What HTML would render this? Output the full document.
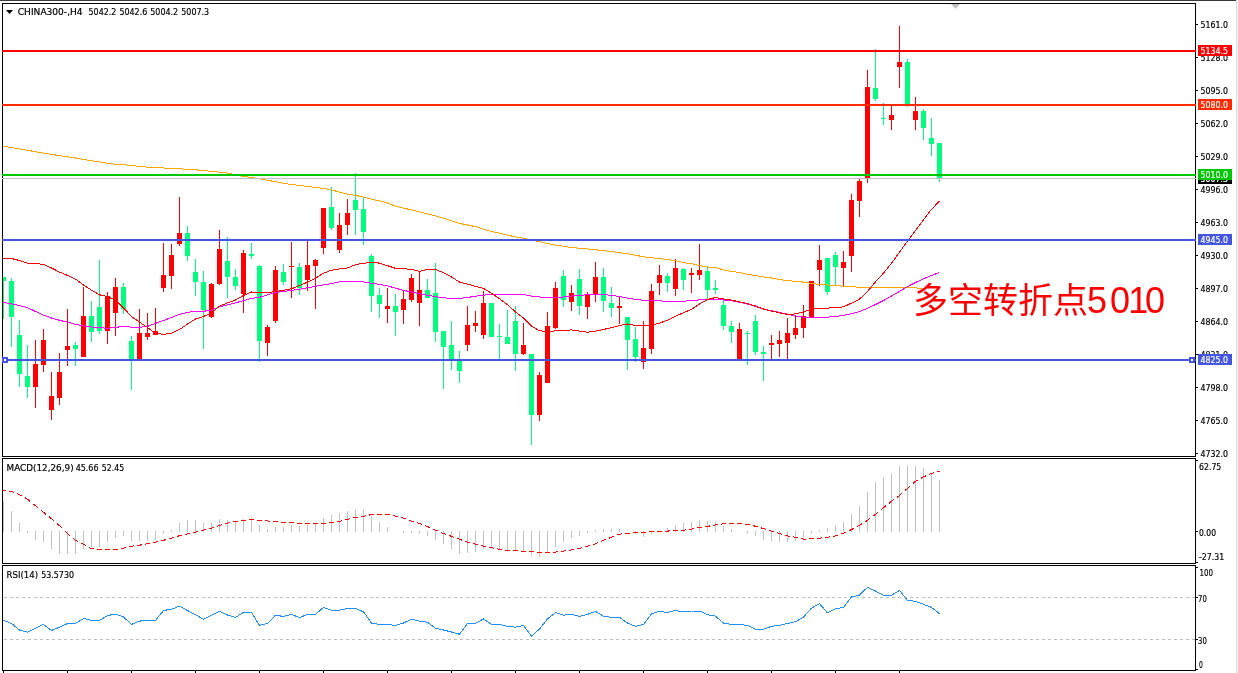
<!DOCTYPE html>
<html><head><meta charset="utf-8"><title>CHINA300 H4</title>
<style>html,body{margin:0;padding:0;background:#fff;}body{width:1238px;height:673px;overflow:hidden;}svg{display:block}</style>
</head><body>
<svg style="will-change:transform" width="1238" height="673" viewBox="0 0 1238 673">
<rect x="0" y="0" width="1238" height="673" fill="#ffffff"/>
<rect x="0" y="0" width="1236" height="1" fill="#3a3a3a"/>
<rect x="1236" y="0" width="1" height="673" fill="#dcdcdc"/>
<rect x="1237" y="1" width="1" height="672" fill="#f4f4f4"/>
<clipPath id="cm"><rect x="3" y="4" width="1192" height="452"/></clipPath>
<clipPath id="cd"><rect x="3" y="459" width="1192" height="104"/></clipPath>
<clipPath id="cr"><rect x="3" y="566" width="1192" height="104"/></clipPath>
<g clip-path="url(#cm)" shape-rendering="crispEdges">
<rect x="3" y="277" width="1" height="42" fill="#00ff7f"/>
<rect x="1" y="277" width="5" height="4" fill="#00ff7f"/>
<rect x="11" y="278" width="1" height="69" fill="#00ff7f"/>
<rect x="9" y="281" width="5" height="36" fill="#00ff7f"/>
<rect x="19" y="320" width="1" height="67" fill="#00ff7f"/>
<rect x="17" y="335" width="5" height="39" fill="#00ff7f"/>
<rect x="27" y="345" width="1" height="53" fill="#00ff7f"/>
<rect x="25" y="376" width="5" height="11" fill="#00ff7f"/>
<rect x="35" y="340" width="1" height="68" fill="#ff0000"/>
<rect x="33" y="364" width="5" height="23" fill="#ff0000"/>
<rect x="43" y="329" width="1" height="43" fill="#ff0000"/>
<rect x="41" y="340" width="5" height="25" fill="#ff0000"/>
<rect x="51" y="372" width="1" height="48" fill="#ff0000"/>
<rect x="49" y="396" width="5" height="14" fill="#ff0000"/>
<rect x="59" y="353" width="1" height="52" fill="#ff0000"/>
<rect x="57" y="372" width="5" height="26" fill="#ff0000"/>
<rect x="67" y="309" width="1" height="57" fill="#ff0000"/>
<rect x="65" y="346" width="5" height="4" fill="#ff0000"/>
<rect x="75" y="342" width="1" height="24" fill="#00ff7f"/>
<rect x="73" y="345" width="5" height="4" fill="#00ff7f"/>
<rect x="83" y="287" width="1" height="70" fill="#ff0000"/>
<rect x="81" y="316" width="5" height="41" fill="#ff0000"/>
<rect x="91" y="301" width="1" height="41" fill="#00ff7f"/>
<rect x="89" y="316" width="5" height="16" fill="#00ff7f"/>
<rect x="99" y="260" width="1" height="74" fill="#00ff7f"/>
<rect x="97" y="307" width="5" height="24" fill="#00ff7f"/>
<rect x="107" y="292" width="1" height="52" fill="#ff0000"/>
<rect x="105" y="296" width="5" height="35" fill="#ff0000"/>
<rect x="115" y="278" width="1" height="58" fill="#ff0000"/>
<rect x="113" y="287" width="5" height="26" fill="#ff0000"/>
<rect x="123" y="283" width="1" height="31" fill="#00ff7f"/>
<rect x="121" y="287" width="5" height="22" fill="#00ff7f"/>
<rect x="131" y="336" width="1" height="54" fill="#00ff7f"/>
<rect x="129" y="341" width="5" height="18" fill="#00ff7f"/>
<rect x="139" y="309" width="1" height="50" fill="#ff0000"/>
<rect x="137" y="333" width="5" height="26" fill="#ff0000"/>
<rect x="147" y="313" width="1" height="27" fill="#ff0000"/>
<rect x="145" y="333" width="5" height="4" fill="#ff0000"/>
<rect x="155" y="308" width="1" height="27" fill="#ff0000"/>
<rect x="153" y="331" width="5" height="4" fill="#ff0000"/>
<rect x="163" y="243" width="1" height="49" fill="#ff0000"/>
<rect x="161" y="275" width="5" height="13" fill="#ff0000"/>
<rect x="171" y="244" width="1" height="45" fill="#ff0000"/>
<rect x="169" y="255" width="5" height="21" fill="#ff0000"/>
<rect x="179" y="197" width="1" height="49" fill="#ff0000"/>
<rect x="177" y="233" width="5" height="11" fill="#ff0000"/>
<rect x="187" y="226" width="1" height="35" fill="#00ff7f"/>
<rect x="185" y="233" width="5" height="23" fill="#00ff7f"/>
<rect x="195" y="259" width="1" height="37" fill="#00ff7f"/>
<rect x="193" y="272" width="5" height="10" fill="#00ff7f"/>
<rect x="203" y="271" width="1" height="78" fill="#00ff7f"/>
<rect x="201" y="282" width="5" height="28" fill="#00ff7f"/>
<rect x="211" y="283" width="1" height="35" fill="#ff0000"/>
<rect x="209" y="284" width="5" height="33" fill="#ff0000"/>
<rect x="219" y="230" width="1" height="55" fill="#ff0000"/>
<rect x="217" y="249" width="5" height="35" fill="#ff0000"/>
<rect x="227" y="237" width="1" height="61" fill="#00ff7f"/>
<rect x="225" y="261" width="5" height="16" fill="#00ff7f"/>
<rect x="235" y="269" width="1" height="21" fill="#00ff7f"/>
<rect x="233" y="277" width="5" height="9" fill="#00ff7f"/>
<rect x="243" y="250" width="1" height="63" fill="#ff0000"/>
<rect x="241" y="253" width="5" height="41" fill="#ff0000"/>
<rect x="251" y="243" width="1" height="16" fill="#00ff7f"/>
<rect x="249" y="254" width="5" height="2" fill="#00ff7f"/>
<rect x="259" y="265" width="1" height="97" fill="#00ff7f"/>
<rect x="257" y="266" width="5" height="75" fill="#00ff7f"/>
<rect x="267" y="325" width="1" height="31" fill="#ff0000"/>
<rect x="265" y="327" width="5" height="16" fill="#ff0000"/>
<rect x="275" y="266" width="1" height="57" fill="#ff0000"/>
<rect x="273" y="270" width="5" height="51" fill="#ff0000"/>
<rect x="283" y="264" width="1" height="21" fill="#00ff7f"/>
<rect x="281" y="272" width="5" height="10" fill="#00ff7f"/>
<rect x="291" y="242" width="1" height="56" fill="#ff0000"/>
<rect x="289" y="266" width="5" height="1" fill="#ff0000"/>
<rect x="299" y="263" width="1" height="32" fill="#00ff7f"/>
<rect x="297" y="267" width="5" height="21" fill="#00ff7f"/>
<rect x="307" y="240" width="1" height="51" fill="#ff0000"/>
<rect x="305" y="265" width="5" height="15" fill="#ff0000"/>
<rect x="315" y="259" width="1" height="50" fill="#ff0000"/>
<rect x="313" y="260" width="5" height="6" fill="#ff0000"/>
<rect x="323" y="208" width="1" height="46" fill="#ff0000"/>
<rect x="321" y="208" width="5" height="40" fill="#ff0000"/>
<rect x="331" y="187" width="1" height="43" fill="#00ff7f"/>
<rect x="329" y="207" width="5" height="21" fill="#00ff7f"/>
<rect x="339" y="213" width="1" height="40" fill="#ff0000"/>
<rect x="337" y="225" width="5" height="25" fill="#ff0000"/>
<rect x="347" y="199" width="1" height="36" fill="#ff0000"/>
<rect x="345" y="213" width="5" height="12" fill="#ff0000"/>
<rect x="355" y="173" width="1" height="62" fill="#00ff7f"/>
<rect x="353" y="200" width="5" height="10" fill="#00ff7f"/>
<rect x="363" y="198" width="1" height="47" fill="#00ff7f"/>
<rect x="361" y="209" width="5" height="23" fill="#00ff7f"/>
<rect x="371" y="254" width="1" height="58" fill="#00ff7f"/>
<rect x="369" y="256" width="5" height="40" fill="#00ff7f"/>
<rect x="379" y="288" width="1" height="30" fill="#00ff7f"/>
<rect x="377" y="295" width="5" height="9" fill="#00ff7f"/>
<rect x="387" y="288" width="1" height="35" fill="#ff0000"/>
<rect x="385" y="306" width="5" height="3" fill="#ff0000"/>
<rect x="395" y="294" width="1" height="42" fill="#00ff7f"/>
<rect x="393" y="306" width="5" height="6" fill="#00ff7f"/>
<rect x="403" y="291" width="1" height="33" fill="#ff0000"/>
<rect x="401" y="299" width="5" height="11" fill="#ff0000"/>
<rect x="411" y="274" width="1" height="28" fill="#ff0000"/>
<rect x="409" y="278" width="5" height="22" fill="#ff0000"/>
<rect x="419" y="271" width="1" height="55" fill="#ff0000"/>
<rect x="417" y="290" width="5" height="13" fill="#ff0000"/>
<rect x="427" y="279" width="1" height="19" fill="#00ff7f"/>
<rect x="425" y="290" width="5" height="8" fill="#00ff7f"/>
<rect x="435" y="263" width="1" height="79" fill="#00ff7f"/>
<rect x="433" y="293" width="5" height="39" fill="#00ff7f"/>
<rect x="443" y="331" width="1" height="58" fill="#00ff7f"/>
<rect x="441" y="331" width="5" height="16" fill="#00ff7f"/>
<rect x="451" y="321" width="1" height="49" fill="#00ff7f"/>
<rect x="449" y="345" width="5" height="14" fill="#00ff7f"/>
<rect x="459" y="351" width="1" height="32" fill="#00ff7f"/>
<rect x="457" y="360" width="5" height="11" fill="#00ff7f"/>
<rect x="467" y="306" width="1" height="45" fill="#ff0000"/>
<rect x="465" y="325" width="5" height="20" fill="#ff0000"/>
<rect x="475" y="311" width="1" height="21" fill="#ff0000"/>
<rect x="473" y="323" width="5" height="3" fill="#ff0000"/>
<rect x="483" y="291" width="1" height="48" fill="#ff0000"/>
<rect x="481" y="303" width="5" height="32" fill="#ff0000"/>
<rect x="491" y="303" width="1" height="34" fill="#00ff7f"/>
<rect x="489" y="303" width="5" height="34" fill="#00ff7f"/>
<rect x="499" y="324" width="1" height="35" fill="#00ff7f"/>
<rect x="497" y="336" width="5" height="1" fill="#00ff7f"/>
<rect x="507" y="310" width="1" height="34" fill="#00ff7f"/>
<rect x="505" y="337" width="5" height="7" fill="#00ff7f"/>
<rect x="515" y="306" width="1" height="65" fill="#00ff7f"/>
<rect x="513" y="321" width="5" height="33" fill="#00ff7f"/>
<rect x="523" y="323" width="1" height="32" fill="#ff0000"/>
<rect x="521" y="345" width="5" height="9" fill="#ff0000"/>
<rect x="531" y="354" width="1" height="91" fill="#00ff7f"/>
<rect x="529" y="354" width="5" height="61" fill="#00ff7f"/>
<rect x="539" y="372" width="1" height="49" fill="#ff0000"/>
<rect x="537" y="375" width="5" height="40" fill="#ff0000"/>
<rect x="547" y="312" width="1" height="71" fill="#ff0000"/>
<rect x="545" y="326" width="5" height="57" fill="#ff0000"/>
<rect x="555" y="282" width="1" height="47" fill="#ff0000"/>
<rect x="553" y="288" width="5" height="40" fill="#ff0000"/>
<rect x="563" y="270" width="1" height="37" fill="#00ff7f"/>
<rect x="561" y="276" width="5" height="24" fill="#00ff7f"/>
<rect x="571" y="285" width="1" height="26" fill="#ff0000"/>
<rect x="569" y="293" width="5" height="9" fill="#ff0000"/>
<rect x="579" y="269" width="1" height="46" fill="#00ff7f"/>
<rect x="577" y="279" width="5" height="27" fill="#00ff7f"/>
<rect x="587" y="292" width="1" height="27" fill="#ff0000"/>
<rect x="585" y="295" width="5" height="12" fill="#ff0000"/>
<rect x="595" y="262" width="1" height="40" fill="#ff0000"/>
<rect x="593" y="277" width="5" height="17" fill="#ff0000"/>
<rect x="603" y="268" width="1" height="44" fill="#00ff7f"/>
<rect x="601" y="277" width="5" height="24" fill="#00ff7f"/>
<rect x="611" y="287" width="1" height="30" fill="#00ff7f"/>
<rect x="609" y="303" width="5" height="5" fill="#00ff7f"/>
<rect x="619" y="297" width="1" height="27" fill="#ff0000"/>
<rect x="617" y="306" width="5" height="2" fill="#ff0000"/>
<rect x="627" y="317" width="1" height="53" fill="#00ff7f"/>
<rect x="625" y="317" width="5" height="23" fill="#00ff7f"/>
<rect x="635" y="327" width="1" height="35" fill="#00ff7f"/>
<rect x="633" y="339" width="5" height="18" fill="#00ff7f"/>
<rect x="643" y="321" width="1" height="48" fill="#ff0000"/>
<rect x="641" y="348" width="5" height="14" fill="#ff0000"/>
<rect x="651" y="284" width="1" height="70" fill="#ff0000"/>
<rect x="649" y="291" width="5" height="58" fill="#ff0000"/>
<rect x="659" y="265" width="1" height="30" fill="#ff0000"/>
<rect x="657" y="275" width="5" height="8" fill="#ff0000"/>
<rect x="667" y="273" width="1" height="19" fill="#00ff7f"/>
<rect x="665" y="276" width="5" height="7" fill="#00ff7f"/>
<rect x="675" y="259" width="1" height="37" fill="#ff0000"/>
<rect x="673" y="268" width="5" height="21" fill="#ff0000"/>
<rect x="683" y="268" width="1" height="22" fill="#00ff7f"/>
<rect x="681" y="269" width="5" height="11" fill="#00ff7f"/>
<rect x="691" y="268" width="1" height="25" fill="#ff0000"/>
<rect x="689" y="273" width="5" height="2" fill="#ff0000"/>
<rect x="699" y="244" width="1" height="36" fill="#ff0000"/>
<rect x="697" y="270" width="5" height="5" fill="#ff0000"/>
<rect x="707" y="267" width="1" height="33" fill="#00ff7f"/>
<rect x="705" y="271" width="5" height="19" fill="#00ff7f"/>
<rect x="715" y="280" width="1" height="14" fill="#00ff7f"/>
<rect x="713" y="288" width="5" height="2" fill="#00ff7f"/>
<rect x="723" y="300" width="1" height="30" fill="#00ff7f"/>
<rect x="721" y="305" width="5" height="21" fill="#00ff7f"/>
<rect x="731" y="321" width="1" height="22" fill="#00ff7f"/>
<rect x="729" y="326" width="5" height="6" fill="#00ff7f"/>
<rect x="739" y="323" width="1" height="37" fill="#ff0000"/>
<rect x="737" y="329" width="5" height="30" fill="#ff0000"/>
<rect x="747" y="331" width="1" height="34" fill="#00ff7f"/>
<rect x="745" y="333" width="5" height="1" fill="#00ff7f"/>
<rect x="755" y="315" width="1" height="40" fill="#00ff7f"/>
<rect x="753" y="321" width="5" height="31" fill="#00ff7f"/>
<rect x="763" y="346" width="1" height="35" fill="#00ff7f"/>
<rect x="761" y="352" width="5" height="2" fill="#00ff7f"/>
<rect x="771" y="335" width="1" height="24" fill="#ff0000"/>
<rect x="769" y="343" width="5" height="2" fill="#ff0000"/>
<rect x="779" y="331" width="1" height="26" fill="#ff0000"/>
<rect x="777" y="340" width="5" height="4" fill="#ff0000"/>
<rect x="787" y="318" width="1" height="41" fill="#ff0000"/>
<rect x="785" y="333" width="5" height="10" fill="#ff0000"/>
<rect x="795" y="316" width="1" height="23" fill="#ff0000"/>
<rect x="793" y="328" width="5" height="7" fill="#ff0000"/>
<rect x="803" y="305" width="1" height="33" fill="#ff0000"/>
<rect x="801" y="316" width="5" height="12" fill="#ff0000"/>
<rect x="811" y="281" width="1" height="37" fill="#ff0000"/>
<rect x="809" y="281" width="5" height="37" fill="#ff0000"/>
<rect x="819" y="245" width="1" height="41" fill="#ff0000"/>
<rect x="817" y="260" width="5" height="10" fill="#ff0000"/>
<rect x="827" y="258" width="1" height="37" fill="#00ff7f"/>
<rect x="825" y="258" width="5" height="34" fill="#00ff7f"/>
<rect x="835" y="252" width="1" height="34" fill="#00ff7f"/>
<rect x="833" y="255" width="5" height="12" fill="#00ff7f"/>
<rect x="843" y="251" width="1" height="35" fill="#ff0000"/>
<rect x="841" y="262" width="5" height="6" fill="#ff0000"/>
<rect x="851" y="194" width="1" height="78" fill="#ff0000"/>
<rect x="849" y="200" width="5" height="56" fill="#ff0000"/>
<rect x="859" y="178" width="1" height="39" fill="#ff0000"/>
<rect x="857" y="181" width="5" height="20" fill="#ff0000"/>
<rect x="867" y="70" width="1" height="113" fill="#ff0000"/>
<rect x="865" y="87" width="5" height="92" fill="#ff0000"/>
<rect x="875" y="49" width="1" height="52" fill="#00ff7f"/>
<rect x="873" y="88" width="5" height="11" fill="#00ff7f"/>
<rect x="883" y="103" width="1" height="22" fill="#00ff7f"/>
<rect x="881" y="118" width="5" height="1" fill="#00ff7f"/>
<rect x="891" y="106" width="1" height="24" fill="#ff0000"/>
<rect x="889" y="115" width="5" height="5" fill="#ff0000"/>
<rect x="899" y="26" width="1" height="62" fill="#ff0000"/>
<rect x="897" y="62" width="5" height="5" fill="#ff0000"/>
<rect x="907" y="59" width="1" height="48" fill="#00ff7f"/>
<rect x="905" y="62" width="5" height="42" fill="#00ff7f"/>
<rect x="915" y="97" width="1" height="33" fill="#ff0000"/>
<rect x="913" y="111" width="5" height="9" fill="#ff0000"/>
<rect x="923" y="109" width="1" height="31" fill="#00ff7f"/>
<rect x="921" y="111" width="5" height="17" fill="#00ff7f"/>
<rect x="931" y="118" width="1" height="38" fill="#00ff7f"/>
<rect x="929" y="138" width="5" height="6" fill="#00ff7f"/>
<rect x="939" y="143" width="1" height="39" fill="#00ff7f"/>
<rect x="937" y="143" width="5" height="36" fill="#00ff7f"/>
<polyline points="3.5,146.2 11.5,147.6 19.5,149.0 27.5,150.3 35.5,151.7 43.5,153.1 51.5,154.4 59.5,155.6 67.5,156.8 75.5,158.0 83.5,159.4 91.5,160.7 99.5,162.0 107.5,163.3 115.5,164.3 123.5,164.7 131.5,165.5 139.5,166.5 147.5,167.1 155.5,167.7 163.5,168.0 171.5,168.4 179.5,168.8 187.5,169.3 195.5,169.8 203.5,170.6 211.5,171.4 219.5,172.2 227.5,173.1 235.5,174.8 243.5,176.5 251.5,177.5 259.5,178.7 267.5,180.2 275.5,181.8 283.5,183.2 291.5,184.5 299.5,185.5 307.5,186.5 315.5,187.4 323.5,188.5 331.5,189.8 339.5,192.2 347.5,194.2 355.5,195.3 363.5,197.2 371.5,199.2 379.5,200.9 387.5,203.0 395.5,206.2 403.5,208.1 411.5,209.9 419.5,211.9 427.5,213.9 435.5,215.9 443.5,218.2 451.5,220.8 459.5,223.4 467.5,225.0 475.5,226.6 483.5,229.3 491.5,231.4 499.5,233.2 507.5,235.1 515.5,236.9 523.5,238.2 531.5,240.0 539.5,241.7 547.5,243.6 555.5,245.1 563.5,246.3 571.5,247.5 579.5,248.3 587.5,249.0 595.5,249.8 603.5,250.6 611.5,251.5 619.5,252.6 627.5,253.7 635.5,255.2 643.5,256.8 651.5,257.7 659.5,258.6 667.5,259.5 675.5,260.7 683.5,262.7 691.5,263.7 699.5,265.6 707.5,267.0 715.5,267.5 723.5,269.9 731.5,271.5 739.5,272.5 747.5,274.4 755.5,275.5 763.5,277.0 771.5,278.0 779.5,279.5 787.5,280.7 795.5,281.3 803.5,282.1 811.5,283.5 819.5,284.4 827.5,285.0 835.5,285.5 843.5,286.2 851.5,286.8 859.5,287.2 867.5,287.4 875.5,287.3 883.5,287.3 891.5,287.3 899.5,287.4 907.5,287.7 915.5,287.9 921.9,288.5" fill="none" stroke="#ffa500" stroke-width="1" />
<polyline points="3.5,302.3 11.5,303.8 19.5,305.6 27.5,307.6 35.5,311.5 43.5,315.1 51.5,318.0 59.5,320.3 67.5,322.2 75.5,324.3 83.5,325.9 91.5,327.0 99.5,327.7 107.5,328.3 115.5,327.2 123.5,326.7 131.5,327.1 139.5,327.3 147.5,326.4 155.5,323.4 163.5,320.5 171.5,317.5 179.5,314.4 187.5,312.3 195.5,311.4 203.5,311.3 211.5,310.1 219.5,306.9 227.5,304.9 235.5,302.8 243.5,300.7 251.5,298.4 259.5,297.3 267.5,294.8 275.5,292.5 283.5,291.5 291.5,290.4 299.5,289.2 307.5,287.8 315.5,286.3 323.5,285.0 331.5,283.5 339.5,282.0 347.5,281.4 355.5,281.4 363.5,281.9 371.5,283.2 379.5,284.4 387.5,285.8 395.5,288.2 403.5,290.4 411.5,292.0 419.5,293.7 427.5,295.3 435.5,296.6 443.5,297.8 451.5,298.4 459.5,298.4 467.5,297.5 475.5,296.2 483.5,295.1 491.5,294.5 499.5,294.5 507.5,294.5 515.5,294.5 523.5,294.5 531.5,296.1 539.5,297.0 547.5,297.5 555.5,297.5 563.5,297.0 571.5,296.1 579.5,295.3 587.5,294.8 595.5,294.5 603.5,294.5 611.5,295.4 619.5,296.5 627.5,298.1 635.5,299.5 643.5,300.2 651.5,300.3 659.5,300.8 667.5,301.5 675.5,301.5 683.5,301.2 691.5,300.6 699.5,299.9 707.5,299.5 715.5,299.6 723.5,299.9 731.5,300.8 739.5,302.3 747.5,304.1 755.5,306.4 763.5,309.0 771.5,310.7 779.5,312.4 787.5,314.2 795.5,315.9 803.5,317.3 811.5,317.5 819.5,317.4 827.5,317.1 835.5,316.4 843.5,315.4 851.5,313.7 859.5,311.5 867.5,308.3 875.5,304.5 883.5,300.5 891.5,296.0 899.5,291.4 907.5,286.6 915.5,282.5 923.5,278.8 931.5,275.5 939.5,272.5" fill="none" stroke="#ff00ff" stroke-width="1" />
<polyline points="3.5,258.3 11.5,258.5 19.5,260.5 27.5,263.1 35.5,263.7 43.5,264.3 51.5,268.0 59.5,272.1 67.5,275.4 75.5,279.1 83.5,285.1 91.5,290.1 99.5,294.8 107.5,296.6 115.5,300.3 123.5,307.8 131.5,316.5 139.5,322.1 147.5,327.5 155.5,333.5 163.5,334.3 171.5,333.2 179.5,329.5 187.5,324.1 195.5,319.0 203.5,316.5 211.5,312.7 219.5,306.2 227.5,302.8 235.5,300.1 243.5,295.4 251.5,292.0 259.5,292.5 267.5,292.5 275.5,291.7 283.5,290.3 291.5,288.8 299.5,285.5 307.5,282.2 315.5,278.2 323.5,273.2 331.5,270.2 339.5,269.0 347.5,268.0 355.5,264.7 363.5,263.3 371.5,262.3 379.5,263.1 387.5,265.7 395.5,268.3 403.5,268.6 411.5,269.5 419.5,271.3 427.5,269.4 435.5,269.4 443.5,272.7 451.5,277.0 459.5,282.0 467.5,284.1 475.5,286.3 483.5,288.4 491.5,293.3 499.5,298.6 507.5,304.8 515.5,311.9 523.5,318.1 531.5,326.0 539.5,330.7 547.5,331.6 555.5,330.9 563.5,330.1 571.5,330.0 579.5,331.1 587.5,332.2 595.5,331.2 603.5,329.5 611.5,327.6 619.5,325.6 627.5,324.0 635.5,325.5 643.5,326.0 651.5,325.1 659.5,323.1 667.5,320.1 675.5,316.1 683.5,312.8 691.5,309.3 699.5,304.0 707.5,299.5 715.5,297.5 723.5,299.0 731.5,300.1 739.5,301.9 747.5,303.6 755.5,305.9 763.5,309.0 771.5,311.1 779.5,312.8 787.5,314.6 795.5,313.9 803.5,311.9 811.5,309.0 819.5,308.1 827.5,308.1 835.5,307.5 843.5,306.9 851.5,303.1 859.5,299.2 867.5,291.4 875.5,281.8 883.5,273.1 891.5,263.2 899.5,252.2 907.5,241.0 915.5,230.5 923.5,219.7 931.5,209.4 939.5,201.1" fill="none" stroke="#ff0000" stroke-width="1" />
</g>
<polygon points="951,4 960,4 955.5,9" fill="#c0c0c0"/>
<g clip-path="url(#cd)" shape-rendering="crispEdges">
<rect x="3" y="501" width="1" height="31" fill="#c0c0c0"/>
<rect x="11" y="511" width="1" height="21" fill="#c0c0c0"/>
<rect x="19" y="523" width="1" height="9" fill="#c0c0c0"/>
<rect x="27" y="531" width="1" height="2" fill="#c0c0c0"/>
<rect x="35" y="531" width="1" height="9" fill="#c0c0c0"/>
<rect x="43" y="531" width="1" height="11" fill="#c0c0c0"/>
<rect x="51" y="531" width="1" height="18" fill="#c0c0c0"/>
<rect x="59" y="531" width="1" height="23" fill="#c0c0c0"/>
<rect x="67" y="531" width="1" height="23" fill="#c0c0c0"/>
<rect x="75" y="531" width="1" height="23" fill="#c0c0c0"/>
<rect x="83" y="531" width="1" height="18" fill="#c0c0c0"/>
<rect x="91" y="531" width="1" height="16" fill="#c0c0c0"/>
<rect x="99" y="531" width="1" height="16" fill="#c0c0c0"/>
<rect x="107" y="531" width="1" height="11" fill="#c0c0c0"/>
<rect x="115" y="531" width="1" height="7" fill="#c0c0c0"/>
<rect x="123" y="531" width="1" height="5" fill="#c0c0c0"/>
<rect x="131" y="531" width="1" height="10" fill="#c0c0c0"/>
<rect x="139" y="531" width="1" height="10" fill="#c0c0c0"/>
<rect x="147" y="531" width="1" height="10" fill="#c0c0c0"/>
<rect x="155" y="531" width="1" height="9" fill="#c0c0c0"/>
<rect x="163" y="531" width="1" height="3" fill="#c0c0c0"/>
<rect x="171" y="530" width="1" height="2" fill="#c0c0c0"/>
<rect x="179" y="523" width="1" height="9" fill="#c0c0c0"/>
<rect x="187" y="520" width="1" height="12" fill="#c0c0c0"/>
<rect x="195" y="520" width="1" height="12" fill="#c0c0c0"/>
<rect x="203" y="523" width="1" height="9" fill="#c0c0c0"/>
<rect x="211" y="523" width="1" height="9" fill="#c0c0c0"/>
<rect x="219" y="519" width="1" height="13" fill="#c0c0c0"/>
<rect x="227" y="520" width="1" height="12" fill="#c0c0c0"/>
<rect x="235" y="522" width="1" height="10" fill="#c0c0c0"/>
<rect x="243" y="519" width="1" height="13" fill="#c0c0c0"/>
<rect x="251" y="518" width="1" height="14" fill="#c0c0c0"/>
<rect x="259" y="525" width="1" height="7" fill="#c0c0c0"/>
<rect x="267" y="529" width="1" height="3" fill="#c0c0c0"/>
<rect x="275" y="527" width="1" height="5" fill="#c0c0c0"/>
<rect x="283" y="527" width="1" height="5" fill="#c0c0c0"/>
<rect x="291" y="525" width="1" height="7" fill="#c0c0c0"/>
<rect x="299" y="526" width="1" height="6" fill="#c0c0c0"/>
<rect x="307" y="525" width="1" height="7" fill="#c0c0c0"/>
<rect x="315" y="524" width="1" height="8" fill="#c0c0c0"/>
<rect x="323" y="518" width="1" height="14" fill="#c0c0c0"/>
<rect x="331" y="515" width="1" height="17" fill="#c0c0c0"/>
<rect x="339" y="513" width="1" height="19" fill="#c0c0c0"/>
<rect x="347" y="511" width="1" height="21" fill="#c0c0c0"/>
<rect x="355" y="509" width="1" height="23" fill="#c0c0c0"/>
<rect x="363" y="509" width="1" height="23" fill="#c0c0c0"/>
<rect x="371" y="516" width="1" height="16" fill="#c0c0c0"/>
<rect x="379" y="522" width="1" height="10" fill="#c0c0c0"/>
<rect x="387" y="527" width="1" height="5" fill="#c0c0c0"/>
<rect x="403" y="531" width="1" height="2" fill="#c0c0c0"/>
<rect x="411" y="531" width="1" height="2" fill="#c0c0c0"/>
<rect x="419" y="531" width="1" height="3" fill="#c0c0c0"/>
<rect x="427" y="531" width="1" height="5" fill="#c0c0c0"/>
<rect x="435" y="531" width="1" height="9" fill="#c0c0c0"/>
<rect x="443" y="531" width="1" height="13" fill="#c0c0c0"/>
<rect x="451" y="531" width="1" height="18" fill="#c0c0c0"/>
<rect x="459" y="531" width="1" height="23" fill="#c0c0c0"/>
<rect x="467" y="531" width="1" height="22" fill="#c0c0c0"/>
<rect x="475" y="531" width="1" height="21" fill="#c0c0c0"/>
<rect x="483" y="531" width="1" height="18" fill="#c0c0c0"/>
<rect x="491" y="531" width="1" height="18" fill="#c0c0c0"/>
<rect x="499" y="531" width="1" height="18" fill="#c0c0c0"/>
<rect x="507" y="531" width="1" height="19" fill="#c0c0c0"/>
<rect x="515" y="531" width="1" height="20" fill="#c0c0c0"/>
<rect x="523" y="531" width="1" height="21" fill="#c0c0c0"/>
<rect x="531" y="531" width="1" height="25" fill="#c0c0c0"/>
<rect x="539" y="531" width="1" height="26" fill="#c0c0c0"/>
<rect x="547" y="531" width="1" height="22" fill="#c0c0c0"/>
<rect x="555" y="531" width="1" height="16" fill="#c0c0c0"/>
<rect x="563" y="531" width="1" height="11" fill="#c0c0c0"/>
<rect x="571" y="531" width="1" height="7" fill="#c0c0c0"/>
<rect x="579" y="531" width="1" height="5" fill="#c0c0c0"/>
<rect x="587" y="531" width="1" height="2" fill="#c0c0c0"/>
<rect x="595" y="530" width="1" height="2" fill="#c0c0c0"/>
<rect x="603" y="529" width="1" height="3" fill="#c0c0c0"/>
<rect x="611" y="529" width="1" height="3" fill="#c0c0c0"/>
<rect x="619" y="529" width="1" height="3" fill="#c0c0c0"/>
<rect x="635" y="531" width="1" height="3" fill="#c0c0c0"/>
<rect x="643" y="531" width="1" height="6" fill="#c0c0c0"/>
<rect x="651" y="531" width="1" height="3" fill="#c0c0c0"/>
<rect x="667" y="528" width="1" height="4" fill="#c0c0c0"/>
<rect x="675" y="525" width="1" height="7" fill="#c0c0c0"/>
<rect x="683" y="523" width="1" height="9" fill="#c0c0c0"/>
<rect x="691" y="522" width="1" height="10" fill="#c0c0c0"/>
<rect x="699" y="520" width="1" height="12" fill="#c0c0c0"/>
<rect x="707" y="521" width="1" height="11" fill="#c0c0c0"/>
<rect x="715" y="522" width="1" height="10" fill="#c0c0c0"/>
<rect x="723" y="526" width="1" height="6" fill="#c0c0c0"/>
<rect x="731" y="529" width="1" height="3" fill="#c0c0c0"/>
<rect x="747" y="531" width="1" height="3" fill="#c0c0c0"/>
<rect x="755" y="531" width="1" height="5" fill="#c0c0c0"/>
<rect x="763" y="531" width="1" height="9" fill="#c0c0c0"/>
<rect x="771" y="531" width="1" height="10" fill="#c0c0c0"/>
<rect x="779" y="531" width="1" height="11" fill="#c0c0c0"/>
<rect x="787" y="531" width="1" height="11" fill="#c0c0c0"/>
<rect x="795" y="531" width="1" height="10" fill="#c0c0c0"/>
<rect x="803" y="531" width="1" height="8" fill="#c0c0c0"/>
<rect x="811" y="531" width="1" height="3" fill="#c0c0c0"/>
<rect x="819" y="530" width="1" height="2" fill="#c0c0c0"/>
<rect x="827" y="528" width="1" height="4" fill="#c0c0c0"/>
<rect x="835" y="525" width="1" height="7" fill="#c0c0c0"/>
<rect x="843" y="522" width="1" height="10" fill="#c0c0c0"/>
<rect x="851" y="514" width="1" height="18" fill="#c0c0c0"/>
<rect x="859" y="506" width="1" height="26" fill="#c0c0c0"/>
<rect x="867" y="492" width="1" height="40" fill="#c0c0c0"/>
<rect x="875" y="482" width="1" height="50" fill="#c0c0c0"/>
<rect x="883" y="477" width="1" height="55" fill="#c0c0c0"/>
<rect x="891" y="473" width="1" height="59" fill="#c0c0c0"/>
<rect x="899" y="466" width="1" height="66" fill="#c0c0c0"/>
<rect x="907" y="465" width="1" height="67" fill="#c0c0c0"/>
<rect x="915" y="466" width="1" height="66" fill="#c0c0c0"/>
<rect x="923" y="468" width="1" height="64" fill="#c0c0c0"/>
<rect x="931" y="474" width="1" height="58" fill="#c0c0c0"/>
<rect x="939" y="480" width="1" height="52" fill="#c0c0c0"/>
<path d="M3.00,490.50 L6.00,490.84 M9.00,491.17 L11.00,491.40 L14.00,492.53 M17.00,493.65 L19.00,494.41 L22.00,496.06 M25.00,497.72 L27.00,498.82 L30.00,501.29 M33.00,503.75 L35.00,505.39 L38.00,507.84 M41.00,510.29 L43.00,511.93 L46.00,514.32 M49.00,516.72 L51.00,518.31 L54.00,520.93 M57.00,523.55 L59.00,525.30 L62.00,528.30 M65.00,531.29 L67.00,533.29 L70.00,535.83 M73.00,538.36 L75.00,540.05 L78.00,541.57 M81.00,543.09 L83.00,544.10 L86.00,545.75 M89.00,547.40 L91.00,548.50 L94.00,548.74 M97.00,548.98 L99.00,549.14 L102.00,549.24 M105.00,549.34 L107.00,549.40 L110.00,549.40 M113.00,549.40 L115.00,549.40 L118.00,549.02 M121.00,548.64 L123.00,548.39 L126.00,547.59 M129.00,546.80 L131.00,546.27 L134.00,545.90 M137.00,545.52 L139.00,545.27 L142.00,544.75 M145.00,544.23 L147.00,543.88 L150.00,543.29 M153.00,542.70 L155.00,542.31 L158.00,541.59 M161.00,540.88 L163.00,540.40 L166.00,539.59 M169.00,538.78 L171.00,538.24 L174.00,537.34 M177.00,536.44 L179.00,535.84 L182.00,535.18 M185.00,534.52 L187.00,534.07 L190.00,533.41 M193.00,532.74 L195.00,532.30 L198.00,531.57 M201.00,530.84 L203.00,530.35 L206.00,529.62 M209.00,528.88 L211.00,528.40 L214.00,527.41 M217.00,526.42 L219.00,525.77 L222.00,524.80 M225.00,523.84 L227.00,523.20 L230.00,522.58 M233.00,521.97 L235.00,521.56 L238.00,521.11 M241.00,520.66 L243.00,520.36 L246.00,519.99 M249.00,519.63 L251.00,519.39 L254.00,519.69 M257.00,519.98 L259.00,520.18 L262.00,520.46 M265.00,520.73 L267.00,520.91 L270.00,521.15 M273.00,521.39 L275.00,521.56 L278.00,521.79 M281.00,522.03 L283.00,522.19 L286.00,522.40 M289.00,522.61 L291.00,522.75 L294.00,522.96 M297.00,523.17 L299.00,523.31 L302.00,523.44 M305.00,523.57 L307.00,523.65 L310.00,523.77 M313.00,523.88 L315.00,523.95 L318.00,523.86 M321.00,523.76 L323.00,523.69 L326.00,523.37 M329.00,523.05 L331.00,522.84 L334.00,522.36 M337.00,521.88 L339.00,521.55 L342.00,520.74 M345.00,519.94 L347.00,519.40 L350.00,518.72 M353.00,518.05 L355.00,517.60 L358.00,517.13 M361.00,516.66 L363.00,516.35 L366.00,515.73 M369.00,515.12 L371.00,514.71 L374.00,514.55 M377.00,514.40 L379.00,514.30 L382.00,514.30 M385.00,514.30 L387.00,514.30 L390.00,514.91 M393.00,515.53 L395.00,515.94 L398.00,516.73 M401.00,517.53 L403.00,518.07 L406.00,519.13 M409.00,520.19 L411.00,520.90 L414.00,521.84 M417.00,522.77 L419.00,523.39 L422.00,524.51 M425.00,525.64 L427.00,526.39 L430.00,527.69 M433.00,529.00 L435.00,529.87 L438.00,531.17 M441.00,532.47 L443.00,533.34 L446.00,534.40 M449.00,535.46 L451.00,536.17 L454.00,537.25 M457.00,538.33 L459.00,539.05 L462.00,540.17 M465.00,541.28 L467.00,542.03 L470.00,542.81 M473.00,543.59 L475.00,544.11 L478.00,544.84 M481.00,545.57 L483.00,546.06 L486.00,546.60 M489.00,547.14 L491.00,547.50 L494.00,548.18 M497.00,548.86 L499.00,549.31 L502.00,549.65 M505.00,550.00 L507.00,550.22 L510.00,550.40 M513.00,550.58 L515.00,550.69 L518.00,550.85 M521.00,551.02 L523.00,551.12 L526.00,551.31 M529.00,551.50 L531.00,551.63 L534.00,551.83 M537.00,552.04 L539.00,552.18 L542.00,552.19 M545.00,552.19 L547.00,552.20 L550.00,552.20 M553.00,552.20 L555.00,552.20 L558.00,551.81 M561.00,551.42 L563.00,551.17 L566.00,550.72 M569.00,550.28 L571.00,549.98 L574.00,549.50 M577.00,549.02 L579.00,548.69 L582.00,547.83 M585.00,546.96 L587.00,546.39 L590.00,545.49 M593.00,544.60 L595.00,544.00 L598.00,542.69 M601.00,541.38 L603.00,540.51 L606.00,539.37 M609.00,538.22 L611.00,537.46 L614.00,536.27 M617.00,535.08 L619.00,534.28 L622.00,533.94 M625.00,533.59 L627.00,533.36 L630.00,533.17 M633.00,532.98 L635.00,532.85 L638.00,532.65 M641.00,532.44 L643.00,532.30 L646.00,532.09 M649.00,531.88 L651.00,531.74 L654.00,531.58 M657.00,531.42 L659.00,531.32 L662.00,531.22 M665.00,531.13 L667.00,531.07 L670.00,530.94 M673.00,530.81 L675.00,530.72 L678.00,530.54 M681.00,530.36 L683.00,530.23 L686.00,529.85 M689.00,529.46 L691.00,529.20 L694.00,528.59 M697.00,527.97 L699.00,527.57 L702.00,527.17 M705.00,526.77 L707.00,526.51 L710.00,525.91 M713.00,525.32 L715.00,524.92 L718.00,524.51 M721.00,524.11 L723.00,523.83 L726.00,523.71 M729.00,523.59 L731.00,523.51 L734.00,523.59 M737.00,523.67 L739.00,523.72 L742.00,523.90 M745.00,524.08 L747.00,524.20 L750.00,524.92 M753.00,525.64 L755.00,526.12 L758.00,526.99 M761.00,527.87 L763.00,528.45 L766.00,529.36 M769.00,530.28 L771.00,530.88 L774.00,531.83 M777.00,532.78 L779.00,533.42 L782.00,534.33 M785.00,535.24 L787.00,535.85 L790.00,536.38 M793.00,536.91 L795.00,537.27 L798.00,537.94 M801.00,538.62 L803.00,539.07 L806.00,539.01 M809.00,538.95 L811.00,538.91 L814.00,538.68 M817.00,538.46 L819.00,538.31 L822.00,537.93 M825.00,537.55 L827.00,537.30 L830.00,536.83 M833.00,536.37 L835.00,536.06 L838.00,535.02 M841.00,533.99 L843.00,533.30 L846.00,531.99 M849.00,530.68 L851.00,529.81 L854.00,528.21 M857.00,526.62 L859.00,525.55 L862.00,523.74 M865.00,521.93 L867.00,520.72 L870.00,518.45 M873.00,516.18 L875.00,514.67 L878.00,512.20 M881.00,509.73 L883.00,508.08 L886.00,505.70 M889.00,503.32 L891.00,501.73 L894.00,499.51 M897.00,497.28 L899.00,495.80 L902.00,493.17 M905.00,490.53 L907.00,488.77 L910.00,486.11 M913.00,483.46 L915.00,481.68 L918.00,479.97 M921.00,478.25 L923.00,477.11 L926.00,475.80 M929.00,474.50 L931.00,473.63 L934.00,472.79 M937.00,471.96 L939.00,471.40 L940.00,471.40" fill="none" stroke="#ff0000" stroke-width="1"/>
</g>
<g clip-path="url(#cr)" shape-rendering="crispEdges">
<line x1="4" y1="597.5" x2="1195" y2="597.5" stroke="#c0c0c0" stroke-width="1" stroke-dasharray="3,3"/>
<line x1="4" y1="639.5" x2="1195" y2="639.5" stroke="#c0c0c0" stroke-width="1" stroke-dasharray="3,3"/>
<polyline points="3.5,620.4 11.5,623.5 19.5,630.0 27.5,632.2 35.5,628.2 43.5,624.4 51.5,630.4 59.5,627.2 67.5,623.5 75.5,623.5 83.5,618.5 91.5,620.4 99.5,620.4 107.5,615.5 115.5,614.2 123.5,617.0 131.5,624.4 139.5,621.1 147.5,620.4 155.5,620.4 163.5,610.5 171.5,609.2 179.5,606.2 187.5,610.5 195.5,614.8 203.5,619.2 211.5,615.2 219.5,611.4 227.5,615.0 235.5,617.4 243.5,612.4 251.5,612.4 259.5,625.4 267.5,623.5 275.5,615.2 283.5,616.5 291.5,614.4 299.5,617.6 307.5,614.4 315.5,614.4 323.5,607.4 331.5,610.1 339.5,610.1 347.5,608.5 355.5,608.5 363.5,611.8 371.5,623.1 379.5,624.4 387.5,624.4 395.5,625.4 403.5,623.0 411.5,619.2 419.5,621.1 427.5,622.2 435.5,628.2 443.5,630.0 451.5,632.0 459.5,634.3 467.5,623.5 475.5,623.5 483.5,618.9 491.5,624.4 499.5,624.4 507.5,626.3 515.5,627.2 523.5,625.4 531.5,636.1 539.5,629.1 547.5,618.9 555.5,612.6 563.5,615.2 571.5,614.4 579.5,616.5 587.5,614.4 595.5,611.4 603.5,616.1 611.5,617.4 619.5,617.4 627.5,623.0 635.5,626.3 643.5,624.4 651.5,613.7 659.5,611.4 667.5,612.4 675.5,610.5 683.5,612.0 691.5,611.0 699.5,611.0 707.5,614.8 715.5,616.1 723.5,623.1 731.5,624.4 739.5,624.4 747.5,625.4 755.5,629.1 763.5,629.1 771.5,626.3 779.5,625.4 787.5,623.5 795.5,621.7 803.5,617.0 811.5,608.1 819.5,603.6 827.5,612.9 835.5,608.7 843.5,607.4 851.5,597.0 859.5,595.1 867.5,587.3 875.5,591.0 883.5,595.3 891.5,595.3 899.5,590.4 907.5,600.3 915.5,601.4 923.5,604.3 931.5,607.4 939.5,613.7" fill="none" stroke="#1e90ff" stroke-width="1" />
</g>
<g shape-rendering="crispEdges" fill="none" stroke="#000" stroke-width="1">
<rect x="2.5" y="3.5" width="1193" height="453"/>
<rect x="2.5" y="458.5" width="1193" height="105"/>
<rect x="2.5" y="565.5" width="1193" height="105"/>
</g>
<g shape-rendering="crispEdges">
<rect x="2" y="178" width="1194" height="1" fill="#c0c0c0"/>
<rect x="2" y="50" width="1194" height="2" fill="#ff0000"/>
<rect x="2" y="104" width="1194" height="2" fill="#ff2a00"/>
<rect x="2" y="174" width="1194" height="2" fill="#00c800"/>
<rect x="2" y="239" width="1194" height="2" fill="#4455e0"/>
<rect x="2" y="359" width="1194" height="2" fill="#4455e0"/>
<rect x="2" y="357" width="6" height="6" fill="#4455e0"/><rect x="4" y="359" width="2" height="2" fill="#ffffff"/>
<rect x="1189" y="357" width="6" height="6" fill="#4455e0"/><rect x="1191" y="359" width="2" height="2" fill="#ffffff"/>
</g>
<rect x="3" y="671" width="1" height="2" fill="#000" shape-rendering="crispEdges"/>
<rect x="67" y="671" width="1" height="2" fill="#000" shape-rendering="crispEdges"/>
<rect x="131" y="671" width="1" height="2" fill="#000" shape-rendering="crispEdges"/>
<rect x="195" y="671" width="1" height="2" fill="#000" shape-rendering="crispEdges"/>
<rect x="259" y="671" width="1" height="2" fill="#000" shape-rendering="crispEdges"/>
<rect x="323" y="671" width="1" height="2" fill="#000" shape-rendering="crispEdges"/>
<rect x="387" y="671" width="1" height="2" fill="#000" shape-rendering="crispEdges"/>
<rect x="451" y="671" width="1" height="2" fill="#000" shape-rendering="crispEdges"/>
<rect x="515" y="671" width="1" height="2" fill="#000" shape-rendering="crispEdges"/>
<rect x="579" y="671" width="1" height="2" fill="#000" shape-rendering="crispEdges"/>
<rect x="643" y="671" width="1" height="2" fill="#000" shape-rendering="crispEdges"/>
<rect x="707" y="671" width="1" height="2" fill="#000" shape-rendering="crispEdges"/>
<rect x="771" y="671" width="1" height="2" fill="#000" shape-rendering="crispEdges"/>
<rect x="835" y="671" width="1" height="2" fill="#000" shape-rendering="crispEdges"/>
<rect x="899" y="671" width="1" height="2" fill="#000" shape-rendering="crispEdges"/>
<rect x="1196" y="24" width="2" height="1" fill="#000" shape-rendering="crispEdges"/>
<text x="1200.5" y="28" textLength="27.5" lengthAdjust="spacingAndGlyphs" fill="#000" stroke="#000" stroke-width="0.2" style="font-family:'DejaVu Sans','Liberation Sans',sans-serif;font-size:9.5px">5161.0</text>
<rect x="1196" y="57" width="2" height="1" fill="#000" shape-rendering="crispEdges"/>
<text x="1200.5" y="61" textLength="27.5" lengthAdjust="spacingAndGlyphs" fill="#000" stroke="#000" stroke-width="0.2" style="font-family:'DejaVu Sans','Liberation Sans',sans-serif;font-size:9.5px">5128.0</text>
<rect x="1196" y="90" width="2" height="1" fill="#000" shape-rendering="crispEdges"/>
<text x="1200.5" y="94" textLength="27.5" lengthAdjust="spacingAndGlyphs" fill="#000" stroke="#000" stroke-width="0.2" style="font-family:'DejaVu Sans','Liberation Sans',sans-serif;font-size:9.5px">5095.0</text>
<rect x="1196" y="123" width="2" height="1" fill="#000" shape-rendering="crispEdges"/>
<text x="1200.5" y="127" textLength="27.5" lengthAdjust="spacingAndGlyphs" fill="#000" stroke="#000" stroke-width="0.2" style="font-family:'DejaVu Sans','Liberation Sans',sans-serif;font-size:9.5px">5062.0</text>
<rect x="1196" y="156" width="2" height="1" fill="#000" shape-rendering="crispEdges"/>
<text x="1200.5" y="160" textLength="27.5" lengthAdjust="spacingAndGlyphs" fill="#000" stroke="#000" stroke-width="0.2" style="font-family:'DejaVu Sans','Liberation Sans',sans-serif;font-size:9.5px">5029.0</text>
<rect x="1196" y="189" width="2" height="1" fill="#000" shape-rendering="crispEdges"/>
<text x="1200.5" y="193" textLength="27.5" lengthAdjust="spacingAndGlyphs" fill="#000" stroke="#000" stroke-width="0.2" style="font-family:'DejaVu Sans','Liberation Sans',sans-serif;font-size:9.5px">4996.0</text>
<rect x="1196" y="222" width="2" height="1" fill="#000" shape-rendering="crispEdges"/>
<text x="1200.5" y="226" textLength="27.5" lengthAdjust="spacingAndGlyphs" fill="#000" stroke="#000" stroke-width="0.2" style="font-family:'DejaVu Sans','Liberation Sans',sans-serif;font-size:9.5px">4963.0</text>
<rect x="1196" y="255" width="2" height="1" fill="#000" shape-rendering="crispEdges"/>
<text x="1200.5" y="259" textLength="27.5" lengthAdjust="spacingAndGlyphs" fill="#000" stroke="#000" stroke-width="0.2" style="font-family:'DejaVu Sans','Liberation Sans',sans-serif;font-size:9.5px">4930.0</text>
<rect x="1196" y="288" width="2" height="1" fill="#000" shape-rendering="crispEdges"/>
<text x="1200.5" y="292" textLength="27.5" lengthAdjust="spacingAndGlyphs" fill="#000" stroke="#000" stroke-width="0.2" style="font-family:'DejaVu Sans','Liberation Sans',sans-serif;font-size:9.5px">4897.0</text>
<rect x="1196" y="321" width="2" height="1" fill="#000" shape-rendering="crispEdges"/>
<text x="1200.5" y="325" textLength="27.5" lengthAdjust="spacingAndGlyphs" fill="#000" stroke="#000" stroke-width="0.2" style="font-family:'DejaVu Sans','Liberation Sans',sans-serif;font-size:9.5px">4864.0</text>
<rect x="1196" y="354" width="2" height="1" fill="#000" shape-rendering="crispEdges"/>
<text x="1200.5" y="358" textLength="27.5" lengthAdjust="spacingAndGlyphs" fill="#000" stroke="#000" stroke-width="0.2" style="font-family:'DejaVu Sans','Liberation Sans',sans-serif;font-size:9.5px">4831.0</text>
<rect x="1196" y="387" width="2" height="1" fill="#000" shape-rendering="crispEdges"/>
<text x="1200.5" y="391" textLength="27.5" lengthAdjust="spacingAndGlyphs" fill="#000" stroke="#000" stroke-width="0.2" style="font-family:'DejaVu Sans','Liberation Sans',sans-serif;font-size:9.5px">4798.0</text>
<rect x="1196" y="420" width="2" height="1" fill="#000" shape-rendering="crispEdges"/>
<text x="1200.5" y="424" textLength="27.5" lengthAdjust="spacingAndGlyphs" fill="#000" stroke="#000" stroke-width="0.2" style="font-family:'DejaVu Sans','Liberation Sans',sans-serif;font-size:9.5px">4765.0</text>
<rect x="1196" y="453" width="2" height="1" fill="#000" shape-rendering="crispEdges"/>
<text x="1200.5" y="457" textLength="27.5" lengthAdjust="spacingAndGlyphs" fill="#000" stroke="#000" stroke-width="0.2" style="font-family:'DejaVu Sans','Liberation Sans',sans-serif;font-size:9.5px">4732.0</text>
<rect x="1198" y="45" width="34" height="11" fill="#ff0000" shape-rendering="crispEdges"/><text x="1200.5" y="54" textLength="27.5" lengthAdjust="spacingAndGlyphs" fill="#fff" stroke="#fff" stroke-width="0.2" style="font-family:'DejaVu Sans','Liberation Sans',sans-serif;font-size:9.5px">5134.5</text>
<rect x="1198" y="99" width="34" height="11" fill="#ff2a00" shape-rendering="crispEdges"/><text x="1200.5" y="108" textLength="27.5" lengthAdjust="spacingAndGlyphs" fill="#fff" stroke="#fff" stroke-width="0.2" style="font-family:'DejaVu Sans','Liberation Sans',sans-serif;font-size:9.5px">5080.0</text>
<rect x="1198" y="173" width="34" height="11" fill="#000000" shape-rendering="crispEdges"/><text x="1200.5" y="182" textLength="27.5" lengthAdjust="spacingAndGlyphs" fill="#fff" stroke="#fff" stroke-width="0.2" style="font-family:'DejaVu Sans','Liberation Sans',sans-serif;font-size:9.5px">5007.3</text>
<rect x="1198" y="169" width="34" height="11" fill="#00c800" shape-rendering="crispEdges"/><text x="1200.5" y="178" textLength="27.5" lengthAdjust="spacingAndGlyphs" fill="#fff" stroke="#fff" stroke-width="0.2" style="font-family:'DejaVu Sans','Liberation Sans',sans-serif;font-size:9.5px">5010.0</text>
<rect x="1198" y="234" width="34" height="11" fill="#4455e0" shape-rendering="crispEdges"/><text x="1200.5" y="243" textLength="27.5" lengthAdjust="spacingAndGlyphs" fill="#fff" stroke="#fff" stroke-width="0.2" style="font-family:'DejaVu Sans','Liberation Sans',sans-serif;font-size:9.5px">4945.0</text>
<rect x="1198" y="354" width="34" height="11" fill="#4455e0" shape-rendering="crispEdges"/><text x="1200.5" y="363" textLength="27.5" lengthAdjust="spacingAndGlyphs" fill="#fff" stroke="#fff" stroke-width="0.2" style="font-family:'DejaVu Sans','Liberation Sans',sans-serif;font-size:9.5px">4825.0</text>
<rect x="1196" y="460" width="2" height="1" fill="#000" shape-rendering="crispEdges"/>
<rect x="1196" y="531" width="2" height="1" fill="#000" shape-rendering="crispEdges"/>
<rect x="1196" y="562" width="2" height="1" fill="#000" shape-rendering="crispEdges"/>
<text x="1199" y="470" textLength="22.3" lengthAdjust="spacingAndGlyphs" fill="#000" stroke="#000" stroke-width="0.2" style="font-family:'DejaVu Sans','Liberation Sans',sans-serif;font-size:9.5px">62.75</text>
<text x="1199" y="536" textLength="17" lengthAdjust="spacingAndGlyphs" fill="#000" stroke="#000" stroke-width="0.2" style="font-family:'DejaVu Sans','Liberation Sans',sans-serif;font-size:9.5px">0.00</text>
<text x="1199" y="560" textLength="25.3" lengthAdjust="spacingAndGlyphs" fill="#000" stroke="#000" stroke-width="0.2" style="font-family:'DejaVu Sans','Liberation Sans',sans-serif;font-size:9.5px">-27.31</text>
<rect x="1196" y="567" width="2" height="1" fill="#000" shape-rendering="crispEdges"/>
<rect x="1196" y="597" width="2" height="1" fill="#000" shape-rendering="crispEdges"/>
<rect x="1196" y="639" width="2" height="1" fill="#000" shape-rendering="crispEdges"/>
<rect x="1196" y="669" width="2" height="1" fill="#000" shape-rendering="crispEdges"/>
<text x="1199.5" y="576" textLength="13.5" lengthAdjust="spacingAndGlyphs" fill="#000" stroke="#000" stroke-width="0.2" style="font-family:'DejaVu Sans','Liberation Sans',sans-serif;font-size:9.5px">100</text>
<text x="1198" y="602" textLength="8.8" lengthAdjust="spacingAndGlyphs" fill="#000" stroke="#000" stroke-width="0.2" style="font-family:'DejaVu Sans','Liberation Sans',sans-serif;font-size:9.5px">70</text>
<text x="1198" y="644" textLength="8.8" lengthAdjust="spacingAndGlyphs" fill="#000" stroke="#000" stroke-width="0.2" style="font-family:'DejaVu Sans','Liberation Sans',sans-serif;font-size:9.5px">30</text>
<text x="1199" y="668" textLength="3.8" lengthAdjust="spacingAndGlyphs" fill="#000" stroke="#000" stroke-width="0.2" style="font-family:'DejaVu Sans','Liberation Sans',sans-serif;font-size:9.5px">0</text>
<polygon points="6,10 13,10 9.5,14" fill="#000"/>
<text x="17.8" y="15" textLength="64.8" lengthAdjust="spacingAndGlyphs" fill="#000" stroke="#000" stroke-width="0.2" style="font-family:'DejaVu Sans','Liberation Sans',sans-serif;font-size:9.5px">CHINA300-,H4</text>
<text x="88.5" y="15" textLength="27.9" lengthAdjust="spacingAndGlyphs" fill="#000" stroke="#000" stroke-width="0.2" style="font-family:'DejaVu Sans','Liberation Sans',sans-serif;font-size:9.5px">5042.2</text>
<text x="119.4" y="15" textLength="27.9" lengthAdjust="spacingAndGlyphs" fill="#000" stroke="#000" stroke-width="0.2" style="font-family:'DejaVu Sans','Liberation Sans',sans-serif;font-size:9.5px">5042.6</text>
<text x="150.3" y="15" textLength="27.9" lengthAdjust="spacingAndGlyphs" fill="#000" stroke="#000" stroke-width="0.2" style="font-family:'DejaVu Sans','Liberation Sans',sans-serif;font-size:9.5px">5004.2</text>
<text x="181.3" y="15" textLength="27.9" lengthAdjust="spacingAndGlyphs" fill="#000" stroke="#000" stroke-width="0.2" style="font-family:'DejaVu Sans','Liberation Sans',sans-serif;font-size:9.5px">5007.3</text>
<text x="6.6" y="471" textLength="67" lengthAdjust="spacingAndGlyphs" fill="#000" stroke="#000" stroke-width="0.2" style="font-family:'DejaVu Sans','Liberation Sans',sans-serif;font-size:9.5px">MACD(12,26,9)</text>
<text x="75.7" y="471" textLength="22.8" lengthAdjust="spacingAndGlyphs" fill="#000" stroke="#000" stroke-width="0.2" style="font-family:'DejaVu Sans','Liberation Sans',sans-serif;font-size:9.5px">45.66</text>
<text x="101.8" y="471" textLength="22.3" lengthAdjust="spacingAndGlyphs" fill="#000" stroke="#000" stroke-width="0.2" style="font-family:'DejaVu Sans','Liberation Sans',sans-serif;font-size:9.5px">52.45</text>
<text x="6.5" y="578" textLength="31.5" lengthAdjust="spacingAndGlyphs" fill="#000" stroke="#000" stroke-width="0.2" style="font-family:'DejaVu Sans','Liberation Sans',sans-serif;font-size:9.5px">RSI(14)</text>
<text x="41.2" y="578" textLength="32.8" lengthAdjust="spacingAndGlyphs" fill="#000" stroke="#000" stroke-width="0.2" style="font-family:'DejaVu Sans','Liberation Sans',sans-serif;font-size:9.5px">53.5730</text>
<text x="913" y="313" fill="#ff0000" style="font-family:'Liberation Sans','Noto Sans CJK SC',sans-serif;font-size:35px">多空转折点<tspan x="1087 1110 1128.3 1145" y="312.5" style="font-size:36px">5010</tspan></text>
</svg>
</body></html>
